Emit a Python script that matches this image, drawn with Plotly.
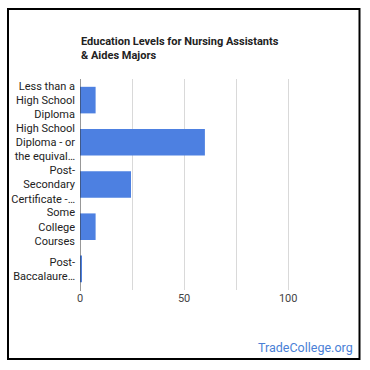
import plotly.graph_objects as go

categories = [
    "Less than a<br>High School<br>Diploma",
    "High School<br>Diploma - or<br>the equival…",
    "Post-<br>Secondary<br>Certificate -…",
    "Some<br>College<br>Courses",
    "Post-<br>Baccalaure…",
]
values = [7.5, 60, 24.5, 7.5, 0.5]
tick_vals = [0, 25, 50, 75, 100]
tick_text = ["0", "", "50", "", "100"]
title_text = "Education Levels for Nursing Assistants<br>& Aides Majors"
watermark = "TradeCollege.org"

FONT = "Roboto"

# target pixel geometry (window coords)
PL, PR, PT, PB = 80, 340, 79, 290
W = H = 370


def px(xw):
    return (xw - PL) / (PR - PL)


def py(yw):
    return (PB - yw) / (PB - PT)


fig = go.Figure(go.Bar(
    x=values, y=categories, orientation="h",
    marker=dict(color="#4d80e1", line=dict(width=0)),
    width=0.63,
))

fig.update_layout(
    width=W, height=H,
    margin=dict(l=PL, r=W - PR, t=PT, b=H - PB),
    paper_bgcolor="white", plot_bgcolor="white",
    showlegend=False,
    font=dict(family=FONT, size=11, color="#222222"),
    xaxis=dict(
        range=[0, 124.9], tickvals=tick_vals, ticktext=tick_text,
        showgrid=True, gridcolor="#d9d9d9", gridwidth=1,
        zeroline=False, showline=False, ticks="",
        tickfont=dict(size=11, color="#444444"),
        fixedrange=True,
    ),
    yaxis=dict(
        autorange="reversed", showgrid=False, zeroline=False,
        showline=False, ticks="", ticklabelstandoff=4,
        tickfont=dict(size=11, color="#222222"),
        fixedrange=True,
    ),
    shapes=[
        dict(type="line", xref="x", yref="paper", x0=0, x1=0, y0=py(291), y1=1,
             line=dict(color="#333333", width=1)),
        dict(type="rect", xref="paper", yref="paper",
             x0=px(8), x1=px(359.5),
             y0=py(359), y1=py(9),
             line=dict(color="black", width=2), fillcolor="rgba(0,0,0,0)"),
    ],
    annotations=[
        dict(text="<b>" + title_text + "</b>", xref="paper", yref="paper",
             x=px(79), y=py(48.5), xanchor="left", yanchor="middle",
             align="left", showarrow=False,
             font=dict(family=FONT, size=11, color="#222222")),
        dict(text=watermark, xref="paper", yref="paper",
             x=px(355), y=py(347), xanchor="right", yanchor="middle",
             showarrow=False,
             font=dict(family=FONT, size=12.5, color="#4a7fd6")),
    ],
)

fig.write_html(
    "out.html",
    config={"displayModeBar": False},
    post_script="document.body.style.margin='0';document.body.style.overflow='hidden';",
)
